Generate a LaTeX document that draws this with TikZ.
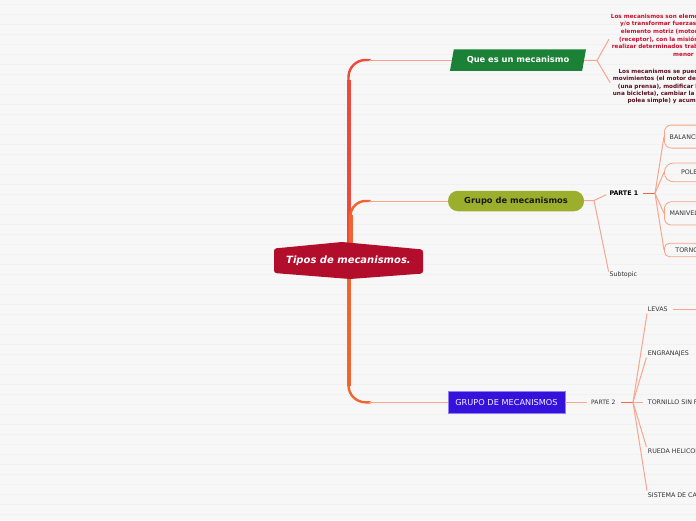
\documentclass[tikz,border=0pt]{standalone}
\usepackage{fontspec}
\setmainfont{DejaVu Sans}
\usetikzlibrary{shapes.geometric,calc,backgrounds}
\definecolor{bg}{HTML}{F7F7F7}
\definecolor{stripe}{HTML}{F1F1F1}
\definecolor{trunkred}{HTML}{EE4A3A}
\definecolor{trunkor}{HTML}{F2642E}
\definecolor{thinpink}{HTML}{F8A590}
\definecolor{orline}{HTML}{EE6A45}
\definecolor{boxor}{HTML}{F5A486}
\definecolor{crimson}{HTML}{B20D2A}
\definecolor{txtred}{HTML}{C8102E}
\definecolor{txtdark}{HTML}{5C0E22}
\definecolor{qgreen}{HTML}{1B8136}
\definecolor{olive}{HTML}{9CAF2C}
\definecolor{gblue}{HTML}{3512DC}
\definecolor{gbluebd}{HTML}{8F7FF0}
\definecolor{leafgray}{HTML}{333333}
\tikzset{
  thinl/.style={draw=thinpink, line width=1pt},
  orl/.style={draw=orline, line width=1.5pt},
  trunkmid/.style={line width=2.4pt, rounded corners=17pt},
  trunkthick/.style={line width=4pt},
  leaf/.style={font=\fontsize{6.3}{7.5}\selectfont, text=leafgray, inner sep=0pt, anchor=west},
  childbox/.style={draw=boxor, line width=0.8pt, anchor=west, text width=70pt, align=left,
    font=\fontsize{6.3}{7.5}\selectfont, text=leafgray, inner ysep=0pt},
  infotext/.style={font=\fontsize{5.7}{7.7}\selectfont\bfseries, inner sep=0pt, anchor=west, align=left},
}
\begin{document}
\begin{tikzpicture}[x=1pt,y=-1pt]
\useasboundingbox (0,0) rectangle (696,520);
\clip (0,0) rectangle (696,520);

% central topic
\node[font=\fontsize{10}{12}\selectfont\bfseries\itshape, text=white, inner sep=0pt] (c) at (348.5,261) {Tipos de mecanismos.};

% main topics
\node[shape=trapezium, trapezium left angle=63, trapezium right angle=117, trapezium stretches body,
  fill=qgreen, minimum width=136pt, minimum height=21.5pt, inner sep=0pt,
  font=\fontsize{8.3}{10}\selectfont\bfseries, text=white] (q) at (518,60) {Que es un mecanismo};
\node[fill=olive, rounded corners=10pt, minimum width=136pt, minimum height=20.5pt, inner sep=0pt,
  font=\fontsize{8.3}{10}\selectfont\bfseries, text=black!90] (g) at (516,201) {Grupo de mecanismos};
\node[fill=gblue, draw=gbluebd, line width=0.5pt, minimum width=117pt, minimum height=21.5pt, inner sep=0pt,
  font=\fontsize{8.2}{10}\selectfont, text=white!95!blue] (gm) at (506.5,402.3) {GRUPO DE MECANISMOS};

% info texts
\node[infotext, text=txtred] (t1) at (610.7,35.3) {%
Los mecanismos son elementos destinados a transmitir\\
\hspace*{9.3pt}y/o transformar fuerzas y movimientos desde un\\
\hspace*{10pt}elemento motriz (motor) a un elemento receptor\\
\hspace*{8.3pt}(receptor), con la misión de permitir al ser humano\\
\hspace*{1pt}realizar determinados trabajos con mayor comodidad y\\
\hspace*{62.3pt}menor esfuerzo.};
\node[infotext, text=txtdark, font=\fontsize{5.7}{7.3}\selectfont\bfseries] (t2) at (612.7,86.5) {%
\hspace*{5.6pt}Los mecanismos se pueden emplear para transmitir\\
movimientos (el motor de un coche), transformarlos\\
\hspace*{5pt}(una prensa), modificar la velocidad (el cambio de\\
una bicicleta), cambiar la dirección del movimiento (una\\
\hspace*{14.6pt}polea simple) y acumular energía (un reloj).};

% PARTE 1
\node[leaf, font=\fontsize{6.3}{7.5}\selectfont\bfseries, text=black] (p1) at (609.3,193.3) {PARTE 1};
\node[leaf] (sub) at (609.3,275) {Subtopic};
\node[childbox, rounded corners=7pt, minimum height=23pt, inner xsep=5.3pt] (bal) at (664,136.6) {BALANCÍN};
\node[childbox, rounded corners=9pt, minimum height=18.7pt, inner xsep=16.7pt] (pol) at (664,172.4) {POLEA};
\node[childbox, rounded corners=7pt, minimum height=23.3pt, inner xsep=5.3pt] (man) at (664,213.4) {MANIVELA};
\node[childbox, rounded corners=5pt, minimum height=13.4pt, inner xsep=11pt] (tor) at (664,250) {TORNO};

% PARTE 2
\node[leaf, font=\fontsize{6}{7.5}\selectfont] (p2) at (591,402.3) {PARTE 2};
\node[leaf] (lev) at (647.7,309.3) {LEVAS};
\node[leaf] (eng) at (647.7,353.3) {ENGRANAJES};
\node[leaf] (tsf) at (647.7,402.3) {TORNILLO SIN FIN};
\node[leaf] (rue) at (647.7,451) {RUEDA HELICOIDAL};
\node[leaf] (sis) at (647.7,495) {SISTEMA DE CADENA};

\coordinate (qf) at (597,60.5);
\coordinate (gf) at (594,200.5);
\coordinate (p1f) at (655,193.3);
\coordinate (p2f) at (633,402.3);
\coordinate (levx) at (730,309.3);

% connectors
\draw[thinl] (q) -- (qf);
\draw[thinl, shorten >=3.6pt] (qf) -- (t1.west |- 0,36);
\draw[thinl, shorten >=5pt] (qf) -- (t2.west |- 0,87);
\draw[thinl] (g) -- (gf);
\draw[thinl, shorten >=3.5pt] (gf) -- (p1.west);
\draw[thinl, shorten >=3.5pt] (gf) -- (sub.west);
\draw[orl, shorten <=4.5pt] (p1) -- (p1f);
\foreach \n in {bal,pol,man,tor} \draw[thinl] (p1f) -- (\n.west);
\draw[thinl, shorten >=4pt] (gm) -- (p2);
\draw[orl, shorten <=5.6pt] (p2) -- (p2f);
\foreach \n in {lev,eng,tsf,rue,sis} \draw[thinl, shorten >=4.4pt] (p2f) -- (\n.west);
\draw[thinl, shorten <=5pt] (lev) -- (levx);

\begin{pgfonlayer}{background}
  \fill[bg] (0,0) rectangle (696,520);
  \foreach \i in {0,...,51} \draw[stripe, line width=1pt] (0,\i*10+4) -- (696,\i*10+4);
  % trunk to top topic
  \coordinate (ct) at (c.center |- q.west);
  \draw[trunkmid, trunkred] (c.center) |- ($(ct)+(22,0)$);
  \draw[trunkthick, trunkred] (c.center) -- ($(ct)+(0,20)$);
  \draw[thinl] ($(ct)+(20,0)$) -- (q.west);
  % trunk to middle topic
  \coordinate (cm) at ($(c.center |- g.west)+(2,0)$);
  \draw[trunkmid, trunkor, rounded corners=15pt] ($(c.center)+(2,0)$) |- ($(cm)+(20,0)$);
  \draw[trunkthick, trunkor] ($(c.center)+(2,0)$) -- ($(cm)+(0,14)$);
  \draw[thinl] ($(cm)+(18,0)$) -- (g.west);
  % trunk to bottom topic
  \coordinate (cb) at (c.center |- gm.west);
  \draw[trunkmid, trunkor] (c.center) |- ($(cb)+(22,0)$);
  \draw[trunkthick, trunkor] (c.center) -- ($(cb)+(0,-16)$);
  \draw[thinl] ($(cb)+(20,0)$) -- (gm.west);
  % central shape
  \fill[crimson, rounded corners=2.5pt] (274,248.5) -- (342,242) -- (423,249.5) -- (423,273.5) -- (350,279) -- (274,273) -- cycle;
\end{pgfonlayer}
\end{tikzpicture}
\end{document}
